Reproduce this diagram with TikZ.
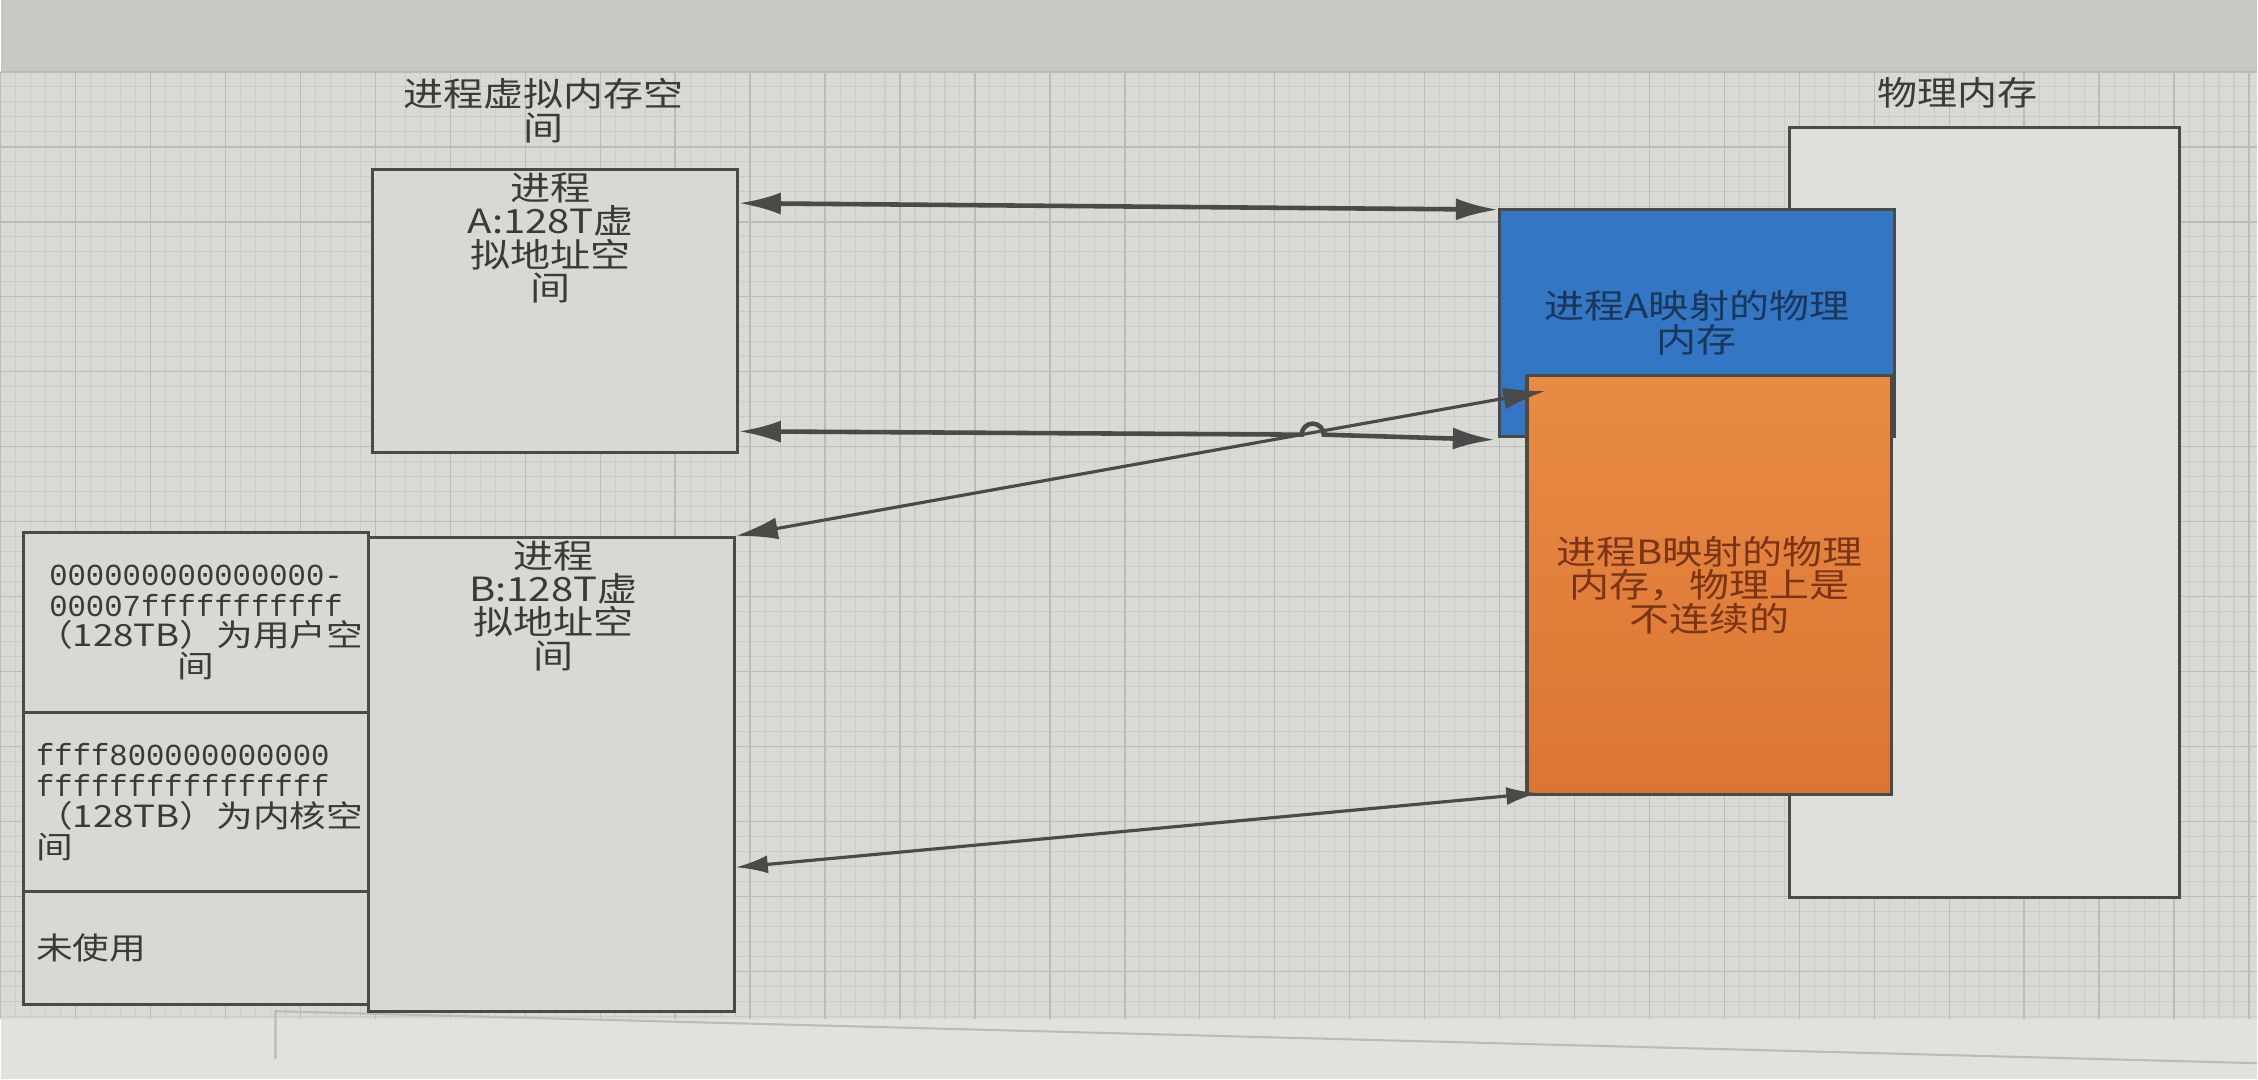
\documentclass[tikz,border=0pt]{standalone}
\usepackage{fontspec}
\setmainfont[FakeStretch=1.2]{Noto Sans CJK SC}
\newfontfamily\hexfont{Liberation Mono}
\usetikzlibrary{arrows.meta}
\usetikzlibrary{calc}

\definecolor{paper}{HTML}{D9DAD6}
\definecolor{paperdark}{HTML}{C8C9C5}
\definecolor{paperlight}{HTML}{E1E2DE}
\definecolor{gridminor}{HTML}{CBCCC8}
\definecolor{gridmajor}{HTML}{BBBCB8}
\definecolor{boxfill}{HTML}{D8D9D5}
\definecolor{physfill}{HTML}{DFE0DC}
\definecolor{ink}{HTML}{4A4A48}
\definecolor{textink}{HTML}{3A3A38}
\definecolor{memblue}{HTML}{3276C4}
\definecolor{bluetext}{HTML}{1C3658}
\definecolor{orangetop}{HTML}{E98B42}
\definecolor{orangebot}{HTML}{DB7534}
\definecolor{orangetext}{HTML}{7A3416}

\begin{document}
\begin{tikzpicture}[x=0.01cm, y=-0.01cm,
    >={Latex[length=0.42cm,width=0.22cm]},
    box/.style={draw=ink, line width=0.9pt, fill=boxfill, inner sep=0pt},
    txt/.style={text=textink, font=\fontsize{9.5}{9.5}\selectfont, align=center, inner sep=0pt},
    cell/.style={box, text=textink, font=\fontsize{8.7}{8.8}\selectfont, text width=3.2cm},
    link/.style={draw=ink, line width=1.3pt, <->},
    thinlink/.style={draw=ink, line width=0.9pt, <->}]
    % page with its grid
    \fill[paper] (0,0) rectangle (2258,1080);
    \fill[paperdark] (0,0) rectangle (2258,72);
    \fill[paperlight] (0,1020) rectangle (2258,1080);
    \foreach \x in {0,15,...,2258}
        \draw[gridminor, line width=0.3pt] (\x,72) -- (\x,1020);
    \foreach \y in {72,87,...,1020}
        \draw[gridminor, line width=0.3pt] (0,\y) -- (2258,\y);
    \foreach \x in {0,75,...,2258}
        \draw[gridmajor, line width=0.4pt] (\x,72) -- (\x,1020);
    \foreach \y in {72,147,...,1020}
        \draw[gridmajor, line width=0.4pt] (0,\y) -- (2258,\y);
    \draw[gridmajor, line width=0.6pt] (275,1060) -- (275,1012) -- (2258,1064);

    % titles
    \node[txt] (VTitle) at (543,111) {进程虚拟内存空\\间};
    \node[txt] (PTitle) at (1958,93) {物理内存};

    % virtual address spaces
    \node[box, minimum width=3.65cm, minimum height=2.83cm] (VA) at (554.5,311.5) {};
    \node[box, minimum width=3.66cm, minimum height=4.74cm] (VB) at (551,775) {};
    \node[txt, anchor=north] (VAtext) at ($(VA.north)+(-4,4)$) {进程\\A:128T虚\\拟地址空\\间};
    \node[txt, anchor=north] (VBtext) at ($(VB.north)+(2,4)$) {进程\\B:128T虚\\拟地址空\\间};
    \node[cell, align=center, minimum width=3.45cm, minimum height=1.80cm] (user) at (195.5,623)
        {\mbox{\hexfont 000000000000000-}\\\mbox{\hexfont 00007fffffffffff}\\\mbox{（128TB）为用户空}\\间};
    \node[cell, align=left, minimum width=3.45cm, minimum height=1.79cm] (kernel) at (195.5,802.5)
        {\mbox{\hexfont ffff800000000000}\\\mbox{\hexfont ffffffffffffffff}\\\mbox{（128TB）为内核空}\\间};
    \node[cell, align=left, minimum width=3.45cm, minimum height=1.13cm] (unused) at (195.5,948.5)
        {未使用};

    % physical memory
    \node[box, fill=physfill, line width=0.8pt, minimum width=3.9cm, minimum height=7.7cm] (phys) at (1985,513) {};
    \node[box, fill=memblue, txt, text=bluetext, minimum width=3.95cm, minimum height=2.27cm] (memA) at (1697.5,323)
        {进程A映射的物理\\内存};
    \node[box, top color=orangetop, bottom color=orangebot, txt, text=orangetext, minimum width=3.65cm, minimum height=4.19cm] (memB) at (1710,585.5)
        {进程B映射的物理\\内存，物理上是\\不连续的};

    % mappings
    \draw[link] ($(VA.north east)+(0,35)$) -- ($(memA.north west)+(0,2)$);
    \draw[link] ($(VA.south east)+(0,-23)$) -- (1302,435) arc[start angle=180, end angle=0, radius=0.11cm]
        -- ($(memA.south west)+(-3,2)$);
    \draw[thinlink] (VB.north east) -- ($(memB.north west)+(20,17)$);
    \draw[thinlink, >={Latex[length=0.32cm,width=0.18cm]}] ($(VB.east)+(0,93)$) -- ($(memB.south west)+(13,-3)$);
\end{tikzpicture}
\end{document}
